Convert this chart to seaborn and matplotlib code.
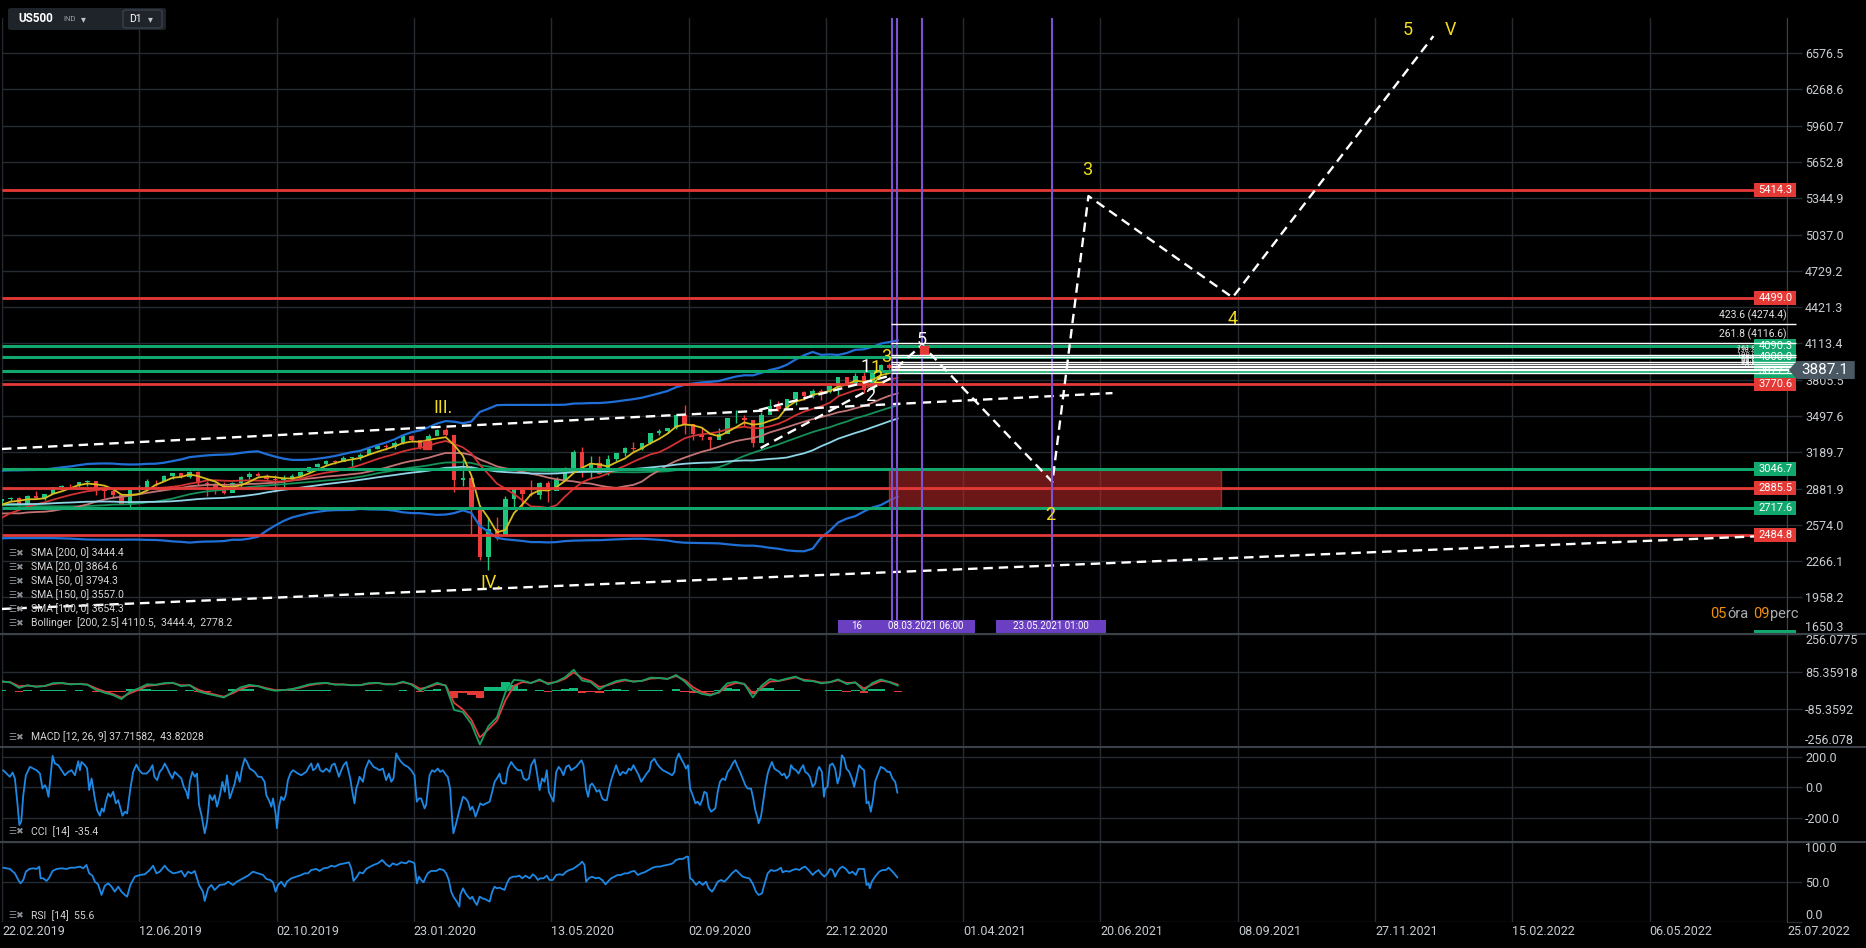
import numpy as np
import pandas as pd
import matplotlib
matplotlib.use("Agg")
import matplotlib.pyplot as plt
from matplotlib.patches import Rectangle, Polygon, FancyBboxPatch
from matplotlib.lines import Line2D
import seaborn as sns

sns.set_style("dark")
plt.rcParams["font.family"] = ["Roboto", "DejaVu Sans"]

BG = "#000000"
GRID = "#262b32"
SPINE = "#3b4149"
TXT = "#c9cdd2"
YEL = "#f2dc1c"
RED = "#e53935"
GRN = "#10a86c"
PURPLE = "#7b52d1"

# ---------------- data (weekly US500) ----------------
hist_close = [2712, 2721, 2735, 2779, 2780, 2755, 2718, 2760, 2801, 2802,
              2819, 2840, 2833, 2850, 2874, 2902, 2872, 2905, 2930, 2914,
              2886, 2767, 2768, 2659, 2723, 2781, 2736, 2633, 2760, 2633,
              2600, 2417, 2486, 2532, 2596, 2671, 2665, 2707, 2708, 2776]

close = [2793, 2804, 2743, 2822, 2800, 2834, 2893, 2907, 2905, 2940,
         2946, 2881, 2860, 2826, 2752, 2873, 2887, 2950, 2942, 2990,
         3014, 2977, 3026, 2932, 2919, 2889, 2847, 2926, 2979, 3007,
         2992, 2962, 2952, 2970, 2986, 3023, 3067, 3093, 3120, 3110,
         3141, 3146, 3169, 3221, 3240, 3235, 3265, 3330, 3295, 3226,
         3328, 3380, 3338, 2954, 2972, 2711, 2305, 2541, 2489, 2790,
         2875, 2837, 2831, 2930, 2864, 2955, 3044, 3194, 3041, 3098,
         3009, 3130, 3185, 3225, 3216, 3271, 3351, 3373, 3397, 3508,
         3427, 3341, 3319, 3298, 3348, 3477, 3484, 3465, 3270, 3509,
         3585, 3558, 3638, 3699, 3663, 3709, 3703, 3756, 3825, 3768,
         3841, 3714, 3887, 3934, 3907, 3887]

high = [2794, 2813, 2812, 2831, 2860, 2836, 2894, 2910, 2917, 2940,
        2954, 2937, 2892, 2876, 2830, 2885, 2910, 2964, 2955, 2996,
        3014, 3018, 3028, 3029, 2945, 2931, 2939, 2940, 2985, 3021,
        3022, 3002, 2993, 2993, 3008, 3027, 3067, 3097, 3121, 3127,
        3154, 3146, 3183, 3226, 3248, 3259, 3282, 3330, 3337, 3285,
        3347, 3385, 3393, 3337, 3136, 3000, 2711, 2637, 2641, 2818,
        2880, 2870, 2954, 2934, 2945, 2981, 3068, 3211, 3233, 3155,
        3154, 3165, 3186, 3238, 3280, 3272, 3352, 3387, 3399, 3509,
        3588, 3425, 3402, 3329, 3398, 3482, 3550, 3502, 3466, 3529,
        3645, 3628, 3644, 3699, 3712, 3726, 3723, 3760, 3826, 3823,
        3859, 3870, 3887, 3937, 3950, 3910]

low = [2757, 2775, 2722, 2743, 2800, 2785, 2849, 2876, 2894, 2897,
       2900, 2825, 2801, 2805, 2750, 2729, 2855, 2878, 2905, 2943,
       2966, 2975, 2970, 2914, 2822, 2840, 2834, 2856, 2891, 2964,
       2985, 2946, 2856, 2892, 2953, 2984, 3025, 3066, 3081, 3091,
       3112, 3070, 3123, 3183, 3216, 3213, 3214, 3264, 3281, 3214,
       3235, 3334, 3328, 2855, 2902, 2478, 2280, 2191, 2447, 2500,
       2727, 2728, 2816, 2797, 2766, 2873, 2969, 3038, 2984, 2965,
       3004, 3001, 3115, 3154, 3201, 3209, 3260, 3339, 3354, 3387,
       3349, 3293, 3292, 3209, 3323, 3354, 3441, 3415, 3234, 3280,
       3511, 3543, 3558, 3594, 3633, 3647, 3636, 3691, 3663, 3764,
       3766, 3694, 3725, 3874, 3885, 3860]

cci_points = [
    (0.7, 113), (2.7, 91), (4.6, 70), (6.2, 98), (7.5, 59), (8.9, -93), (10.1, -246), (11.2, -224), (12.4, -50), (13.9, 80),
    (16.3, 135), (18.2, 124), (20.1, 113), (22.1, 91), (23.6, -7), (25.0, 15), (26.0, -7), (27.1, -61), (28.3, 70), (29.5, 207),
    (30.8, 157), (32.8, 146), (34.7, 113), (36.6, 80), (38.6, 102), (40.5, 113), (42.5, 80), (44.4, 172), (45.4, 113), (46.3, 167),
    (48.3, 146), (49.6, 124), (50.8, -17), (52.2, 59), (54.1, -72), (55.4, -148), (57.0, -185), (58.2, -137), (59.3, -159), (60.5, -93),
    (61.9, -39), (63.2, -61), (64.8, -28), (66.3, -104), (67.7, -83), (69.0, -137), (70.2, -185), (71.6, -159), (72.9, -170), (74.8, -7),
    (76.4, 102), (78.3, 150), (79.9, 113), (81.8, 91), (84.2, 91), (86.1, 113), (87.7, 146), (88.8, 70), (90.4, 48), (91.9, 102),
    (93.5, 124), (94.8, 157), (96.4, 124), (97.7, 91), (99.3, 59), (100.6, 102), (102.6, 80), (104.5, 59), (105.9, 4), (107.4, -28),
    (108.4, -72), (109.4, 37), (110.9, 102), (112.3, 70), (113.6, 91), (114.8, -115), (116.2, -180), (118.1, -300), (119.5, -224), (121.0, -50),
    (122.6, -83), (123.9, -50), (125.3, -126), (126.8, -61), (128.4, 37), (129.8, -28), (131.1, 80), (132.7, -72), (134.0, -28), (135.6, 26),
    (136.9, 102), (138.5, 37), (139.8, 124), (141.4, 189), (142.7, 167), (144.3, 124), (145.9, 113), (147.2, 102), (149.2, 70), (151.1, 70),
    (153.0, 37), (154.0, -50), (155.9, -93), (156.9, -126), (157.9, -72), (159.4, -170), (160.2, -267), (161.4, -126), (162.7, -61), (164.1, -83),
    (165.3, -50), (166.6, 48), (168.0, 91), (169.5, 113), (171.1, 102), (172.4, 91), (174.4, 80), (175.7, 91), (177.3, 102), (178.8, 135),
    (180.2, 157), (181.2, 113), (182.7, 124), (184.1, 157), (185.4, 113), (187.0, 102), (188.9, 124), (190.9, 102), (192.2, 146), (193.8, 157),
    (195.1, 113), (196.3, 70), (197.7, 113), (199.0, 146), (200.6, 167), (201.5, 124), (202.9, 59), (204.1, -28), (205.4, -104), (206.4, -7),
    (207.4, 26), (208.3, 70), (210.3, 37), (211.8, 124), (213.8, 178), (215.1, 157), (216.5, 135), (218.4, 124), (220.0, 113), (221.9, 124),
    (223.8, 48), (225.4, 91), (226.8, 37), (228.1, 59), (229.7, 222), (231.2, 189), (232.6, 167), (234.5, 146), (236.5, 135), (238.4, 113),
    (240.3, 80), (241.7, -93), (242.9, -72), (244.2, -72), (246.2, -137), (247.1, -115), (249.1, 80), (250.6, 113), (252.0, 102), (253.9, 124),
    (255.3, 102), (256.8, 113), (258.8, 80), (259.7, 70), (261.1, -7), (262.3, -213), (263.0, -300), (264.6, -235), (266.5, -148),
    (268.6, -61), (270.1, -72), (271.5, -93), (272.8, -148), (274.0, -126), (274.8, -148), (275.9, -191), (277.3, -148), (278.6, -104), (280.2, -115),
    (282.1, -104), (284.1, -93), (285.6, -28), (287.0, 37), (288.3, 59), (289.9, 91), (290.9, 37), (291.8, 26), (293.4, 26), (294.8, 124),
    (296.7, 167), (298.6, 135), (300.6, 113), (302.5, 113), (303.9, 59), (305.4, 48), (307.0, 59), (308.3, 146), (310.3, 185), (311.6, 102),
    (313.2, -17), (314.7, 59), (316.1, 37), (317.4, 113), (318.6, -28), (320.0, -61), (321.3, -93), (322.9, 102), (324.4, 135), (325.8, 113),
    (327.1, 80), (328.7, 135), (330.3, 146), (331.6, 113), (333.0, 124), (334.5, 135), (336.1, 157), (337.6, 178), (338.8, 146), (340.3, -7),
    (341.5, -61), (342.7, 15), (343.8, 26), (345.2, 4), (346.5, -28), (348.1, -17), (349.7, -72), (351.0, -83), (352.4, -83), (353.9, 4),
    (355.5, 70), (356.2, 91), (357.8, 146), (358.8, 113), (360.1, 80), (361.7, 102), (363.6, 91), (365.2, 124), (366.5, 113), (367.9, 146),
    (369.4, 113), (371.0, 80), (372.4, 37), (373.7, 59), (375.6, 91), (377.2, 113), (378.2, 167), (380.1, 189), (381.5, 157), (383.0, 135),
    (385.0, 113), (386.9, 102), (388.8, 91), (390.4, 80), (391.8, 102), (392.7, 178), (394.3, 222), (395.6, 189), (397.2, 157), (398.5, 124),
    (399.7, 146), (400.9, -7), (402.4, -50), (404.0, -104), (405.3, -93), (406.7, -115), (407.9, -83), (409.2, -28), (410.6, -39), (411.7, -126),
    (413.1, -159), (414.4, -148), (415.6, -137), (417.0, -28), (418.3, 37), (419.9, 59), (421.4, 48), (422.8, 102), (424.3, 124), (425.7, 157),
    (427.1, 178), (428.6, 135), (430.0, 102), (431.5, 59), (433.1, 15), (434.4, -7), (436.4, -7), (437.7, -72), (438.9, -148), (440.3, -202),
    (440.8, -235), (442.2, -191), (443.5, -93), (444.7, 4), (446.1, 91), (447.4, 135), (448.6, 167), (450.0, 124), (451.3, 113), (452.9, 102),
    (454.4, 80), (455.8, 91), (457.1, 59), (458.7, 80), (459.7, 146), (461.0, 124), (462.6, 113), (464.1, 91), (465.5, 124), (466.8, 146),
    (468.0, 102), (469.4, 91), (470.7, 70), (472.3, 4), (473.8, 26), (475.2, 113), (476.1, 135), (477.7, 102), (478.9, -61), (479.6, -7),
    (481.0, 4), (482.3, 146), (483.9, 157), (485.4, 124), (486.8, 26), (488.2, 80), (489.3, 211), (490.7, 189), (492.0, 124), (493.6, 102),
    (495.2, 59), (496.5, 4), (497.9, 70), (499.4, 146), (501.0, 124), (502.3, 113), (503.7, -104), (504.9, -93), (506.2, -159), (507.6, -72),
    (508.7, 37), (510.1, 80), (512.0, 135), (514.0, 124), (515.9, 102), (517.3, 102), (518.8, 59), (520.4, 37), (521.7, -35.4)]

rsi_points = [
    (0.7, 67.9), (4.6, 66.3), (7.5, 60.8), (9.5, 52.5), (10.8, 48.3), (12.4, 52.5), (13.9, 62.9), (15.9, 66.3), (18.2, 67.1), (20.1, 66.3),
    (21.7, 69.2), (22.5, 54.6), (24.0, 54.6), (26.0, 51.3), (27.5, 55.4), (29.5, 63.8), (31.8, 66.3), (34.7, 67.1), (37.6, 66.3), (39.9, 67.9),
    (42.5, 67.9), (45.4, 69.2), (47.3, 67.1), (49.2, 71.3), (50.8, 60.8), (52.7, 57.9), (54.1, 50.4), (56.0, 47.1), (58.0, 33.8), (59.9, 45.4),
    (61.9, 48.3), (63.8, 44.2), (65.7, 37.9), (67.7, 44.2), (69.6, 37.9), (71.6, 33.8), (72.9, 31.7), (74.8, 46.3), (77.4, 56.7), (80.3, 58.8),
    (83.2, 59.6), (86.1, 65.0), (88.0, 70.4), (90.0, 60.8), (91.9, 62.9), (94.8, 70.4), (96.8, 65.0), (99.7, 60.8), (102.6, 62.1), (104.5, 63.8),
    (106.5, 56.7), (108.4, 62.9), (110.4, 60.8), (112.3, 63.8), (114.8, 46.3), (117.1, 37.9), (118.1, 26.3), (120.1, 42.1), (122.0, 46.3), (123.9, 40.0),
    (126.8, 46.3), (129.8, 47.1), (131.7, 50.4), (134.6, 46.3), (136.9, 50.4), (140.4, 54.6), (143.3, 57.9), (146.2, 62.9), (149.2, 60.8), (152.1, 58.8),
    (154.0, 53.8), (156.3, 52.5), (157.9, 49.6), (159.4, 37.9), (160.8, 46.3), (162.7, 50.4), (164.7, 44.2), (166.0, 50.4), (168.6, 54.6), (171.5, 56.7),
    (174.4, 58.8), (176.3, 60.8), (178.3, 60.8), (180.2, 65.0), (183.1, 66.3), (185.0, 63.8), (187.4, 67.1), (189.9, 67.9), (191.8, 70.4), (193.8, 69.2),
    (196.7, 72.1), (199.6, 73.3), (202.1, 74.6), (203.5, 67.1), (204.8, 51.3), (206.8, 56.7), (208.3, 62.1), (210.3, 60.8), (212.2, 66.3), (214.5, 69.2),
    (216.5, 71.3), (219.0, 73.3), (221.5, 77.5), (223.8, 72.1), (225.8, 69.2), (227.7, 73.3), (230.0, 71.3), (232.6, 74.6), (235.5, 73.3), (237.0, 76.3),
    (239.4, 74.6), (240.3, 73.3), (241.7, 48.3), (242.9, 56.7), (244.2, 52.5), (245.6, 49.6), (246.7, 55.4), (248.1, 60.8), (250.0, 63.8), (253.0, 63.8),
    (254.9, 66.3), (257.2, 65.0), (258.8, 60.8), (260.3, 52.5), (261.7, 37.9), (263.0, 31.7), (265.0, 25.4), (266.5, 19.2),
    (267.0, 33.8), (268.6, 42.1), (270.1, 35.8), (271.5, 31.7), (272.8, 28.8), (274.0, 31.7), (275.4, 25.4), (276.7, 21.3), (278.3, 31.7), (279.8, 29.6),
    (281.2, 28.8), (282.5, 27.5), (284.1, 25.4), (285.6, 37.9), (287.0, 44.2), (288.3, 42.1), (289.9, 42.9), (291.5, 41.3), (292.8, 40.0), (294.2, 48.3),
    (295.7, 54.6), (297.7, 56.7), (299.6, 56.7), (301.5, 57.9), (303.1, 54.6), (305.0, 57.9), (307.4, 54.6), (309.3, 59.6), (310.9, 56.7), (312.2, 52.5),
    (313.6, 54.6), (315.5, 54.6), (317.4, 57.9), (319.0, 52.5), (320.9, 52.5), (322.9, 58.8), (324.8, 59.6), (326.8, 58.8), (328.7, 62.9), (330.6, 65.0),
    (332.6, 66.3), (334.5, 69.2), (336.5, 72.1), (338.0, 75.4), (339.4, 71.3), (340.3, 50.4), (341.9, 54.6), (343.8, 56.7), (345.8, 54.6), (347.7, 55.4),
    (349.7, 52.5), (351.6, 47.1), (353.0, 50.4), (354.9, 54.6), (356.8, 56.7), (358.8, 58.8), (360.7, 58.8), (362.7, 60.8), (364.6, 60.8), (366.5, 62.9),
    (368.5, 63.8), (370.4, 58.8), (372.4, 60.8), (374.3, 62.1), (376.8, 65.0), (379.1, 67.9), (381.5, 69.2), (383.4, 69.2), (385.3, 70.4), (387.3, 71.3),
    (389.2, 72.1), (390.8, 73.3), (392.7, 77.5), (394.7, 78.8), (396.6, 78.8), (398.9, 81.7), (399.7, 81.7), (400.9, 54.6), (402.4, 52.5), (404.4, 46.3),
    (406.3, 50.4), (408.2, 46.3), (410.2, 50.4), (411.7, 42.1), (413.7, 37.9), (415.0, 42.1), (417.0, 50.4), (418.9, 52.5), (420.9, 50.4), (422.8, 54.6),
    (425.3, 60.8), (427.6, 65.0), (429.6, 60.8), (431.5, 56.7), (433.5, 55.4), (435.4, 54.6), (437.3, 48.3), (439.3, 37.9), (440.8, 33.8), (442.8, 35.8),
    (444.1, 46.3), (446.1, 60.8), (448.0, 65.0), (450.0, 63.8), (451.9, 65.0), (453.8, 67.9), (454.8, 62.1), (456.7, 63.8), (458.7, 62.9), (460.6, 65.0),
    (462.6, 66.3), (464.5, 65.0), (466.4, 67.9), (468.0, 69.2), (469.9, 65.0), (472.3, 58.8), (473.8, 62.1), (475.8, 65.0), (477.1, 60.8), (479.1, 56.7),
    (481.0, 60.8), (482.3, 66.3), (483.9, 65.0), (485.4, 56.7), (486.8, 62.9), (488.2, 67.1), (489.7, 69.2), (491.7, 66.3), (493.6, 60.8), (495.5, 62.9),
    (497.5, 58.8), (499.0, 66.3), (500.4, 66.3), (502.3, 66.3), (503.7, 46.3), (504.9, 48.3), (505.6, 42.1), (506.8, 50.4), (508.7, 56.7), (511.1, 62.9),
    (513.0, 65.0), (515.0, 65.0), (516.5, 67.9), (517.9, 65.0), (519.8, 60.8), (521.7, 55.6)]

# horizontal levels
red_levels = [5414.3, 4499.0, 3770.6, 2885.5, 2484.8]
green_levels = [4090.3, 4000.0, 3877.2, 3046.7, 2717.6]
fib_pct = [423.6, 261.8, 161.8, 138.2, 100.0, 78.6, 61.8, 50.0, 38.2, 23.6, 0.0]
fib_price = [4274.4, 4116.6, 4019.1, 3996.1, 3958.8, 3938.0, 3921.6, 3910.1, 3898.6, 3884.3, 3861.3]
last_price = 3887.1

# projected wave path (bar index, price)
wave_x = [521, 536, 612, 633, 717, 834]
wave_y = [3905, 4100, 2938, 5363, 4503, 6720]

# dashed trend lines: start / end
trend_x0 = [0, 0, 441, 442]
trend_y0 = [3218, 1861, 3548, 3226]
trend_x1 = [647, 1021, 519, 519]
trend_y1 = [3692, 2476, 3845, 3828]

vline_x = [518.5, 521.5, 536, 612]
zone_x = [517, 710]
zone_y = [2717.6, 3046.7]

wave_labels = ["III.", "IV.", "1", "2", "5", "1", "2", "3", "2", "3", "4", "5", "V"]
wave_lx = [257, 285, 503, 506, 536, 509, 510, 515, 611, 632, 717, 819, 844]
wave_ly = [3566, 2081, 3913, 3667, 4142, 3905, 3820, 3998, 2657, 5584, 4320, 6772, 6772]
wave_lc = [YEL, YEL, "white", "white", "white", YEL, YEL, YEL, YEL, YEL, YEL, YEL, YEL]

price_ticks = [1650.3, 1958.2, 2266.1, 2574.0, 2881.9, 3189.7, 3497.6, 3805.5, 4113.4,
               4421.3, 4729.2, 5037.0, 5344.9, 5652.8, 5960.7, 6268.6, 6576.5]
x_labels = ["22.02.2019", "12.06.2019", "02.10.2019", "23.01.2020", "13.05.2020", "02.09.2020",
            "22.12.2020", "01.04.2021", "20.06.2021", "08.09.2021", "27.11.2021", "15.02.2022",
            "06.05.2022", "25.07.2022"]
legend_lines = ["SMA [200, 0] 3444.4", "SMA [20, 0] 3864.6", "SMA [50, 0] 3794.3",
                "SMA [150, 0] 3557.0", "SMA [100, 0] 3654.3",
                "Bollinger  [200, 2.5] 4110.5,  3444.4,  2778.2"]

# ---------------- indicators ----------------
step = 522 / (len(close) - 1)
all_close = hist_close + close
df = pd.DataFrame({"x": (np.arange(len(all_close)) - len(hist_close)) * step,
                   "close": all_close})
for name, win in [("sma20", 4), ("sma50", 10), ("sma100", 20), ("sma150", 30), ("sma200", 40)]:
    df[name] = df["close"].rolling(win).mean()
sd = df["close"].rolling(40).std(ddof=0)
df["bb_up"] = df["sma200"] + 2.5 * sd
df["bb_lo"] = df["sma200"] - 2.5 * sd
fast = df["close"].ewm(span=12 / 5, adjust=False).mean()
slow = df["close"].ewm(span=26 / 5, adjust=False).mean()
df["macd"] = fast - slow
df["signal"] = df["macd"].ewm(span=9 / 5, adjust=False).mean()
df["hist"] = df["macd"] - df["signal"]
vis = df[df["x"] >= 0].reset_index(drop=True)

# ---------------- figure ----------------
W, H = 1866, 948
fig = plt.figure(figsize=(W / 100, H / 100), dpi=100, facecolor=BG)


def fx(px):
    return px / W


def fy(py):
    return 1 - py / H


L, R = 2, 1787
ax_p = fig.add_axes([fx(L), fy(634), (R - L) / W, (634 - 18) / H])
ax_m = fig.add_axes([fx(L), fy(747), (R - L) / W, 113 / H], sharex=ax_p)
ax_c = fig.add_axes([fx(L), fy(842), (R - L) / W, 95 / H], sharex=ax_p)
ax_r = fig.add_axes([fx(L), fy(922), (R - L) / W, 80 / H], sharex=ax_p)

for ax in [ax_p, ax_m, ax_c, ax_r]:
    ax.set_facecolor(BG)
    for s in ax.spines.values():
        s.set_visible(False)
    ax.spines["right"].set_visible(True)
    ax.spines["right"].set_color(SPINE)
    ax.yaxis.tick_right()
    ax.tick_params(axis="y", color=GRID, labelcolor=TXT, length=11, width=1, pad=2, labelsize=9)
    ax.tick_params(axis="x", length=0, labelbottom=False)
    ax.grid(True, color=GRID, lw=1)
    ax.set_axisbelow(True)

ax_p.set_xticks(np.arange(0, 1041, 80))
ax_p.set_xlim(0, 1040)

U = 80 / 137.4         # bar units per pixel
P = 307.9 / 36.3       # price units per pixel
ax_p.set_ylim(6576.5 - 581 * P, 6576.5 + 35 * P)

# ---- price panel ----
opens = [hist_close[-1]] + close[:-1]
xs = vis["x"].values
up = np.array(close) >= np.array(opens)
ccol = np.where(up, "#1fc77e", "#ef3b3b")
ax_p.vlines(xs, low, high, colors=ccol, lw=1, zorder=2)
ax_p.bar(xs, np.array(close) - np.array(opens), bottom=opens, width=2.6, color=ccol,
         edgecolor="none", linewidth=0, zorder=2)

sma_style = [("sma150", "#168f58"), ("sma100", "#c27474"), ("sma50", "#d23232"),
             ("sma200", "#8fd6e8"), ("sma20", "#d8bd1c"), ("bb_up", "#1f6fd6"), ("bb_lo", "#1f6fd6")]
for col, c in sma_style:
    sns.lineplot(data=vis.dropna(subset=[col]), x="x", y=col, ax=ax_p, color=c,
                 lw=1.6 if col.startswith("bb") else 1.3, estimator=None, zorder=2.5)

ax_p.add_patch(Rectangle((zone_x[0], zone_y[0]), zone_x[1] - zone_x[0], zone_y[1] - zone_y[0],
                         fc="#b52828", alpha=0.6, ec="#d04040", lw=1, zorder=2.8))
ax_p.hlines(red_levels, 0, 1021, colors=RED, lw=2, zorder=3)
ax_p.hlines(green_levels, 0, 1021, colors=GRN, lw=2.2, zorder=3)

box_w, box_h = 42 * U, 14 * P
for v, c in [(v, RED) for v in red_levels] + [(v, GRN) for v in green_levels]:
    ax_p.add_patch(Rectangle((1021, v - box_h / 2), box_w, box_h, fc=c, ec="none", zorder=6, clip_on=False))
    ax_p.text(1021 + box_w / 2, v, f"{v:.1f}", color="white", fontsize=8, ha="center", va="center",
              zorder=7, clip_on=False)
ax_p.add_patch(Rectangle((1021, 1648.5), box_w, 3.5 * P, fc=GRN, ec="none", zorder=6, clip_on=False))

for i, (pct, v) in enumerate(zip(fib_pct, fib_price)):
    ax_p.hlines(v, 518, 1021 + box_w, colors="white", lw=1.0, zorder=7.5, clip_on=False)
    ax_p.text(1039.5, v + 3 * P, f"{pct:.1f} ({v:.1f})", color="#e4e4e4",
              fontsize=7.5 if i < 2 else 5.5, ha="right", va="bottom", zorder=5)

for x0, y0, x1, y1 in zip(trend_x0, trend_y0, trend_x1, trend_y1):
    ax_p.plot([x0, x1], [y0, y1], color="white", lw=1.7, ls=(0, (4, 2.5)), zorder=4)
ax_p.plot(wave_x, wave_y, color="white", lw=1.7, ls=(0, (4, 2.5)), zorder=4)

for xv in vline_x:
    ax_p.axvline(xv, color=PURPLE, lw=1.5, zorder=4.5)

ax_p.scatter([247.4, 537], [3252, 4057], marker="s", s=28, color="#e53935", zorder=4.6)

for t, x, y, c in zip(wave_labels, wave_lx, wave_ly, wave_lc):
    ax_p.text(x, y, t, color=c, fontsize=13, ha="center", va="center", zorder=8)

# date markers on the price panel bottom
y_b = 1648.5 + 1 * P
for x0, x1, t in [(487, 509.4, "16"), (509.4, 567, "08.03.2021 06:00"), (579, 643, "23.05.2021 01:00")]:
    ax_p.add_patch(Rectangle((x0, y_b), x1 - x0, 13 * P, fc="#6a3fc2", ec="none", zorder=8))
    ax_p.text((x0 + x1) / 2, y_b + 6.5 * P, t, color="white", fontsize=7, ha="center", va="center", zorder=9)

# current price tag
tag = Polygon([[(1790 - 2) * U, last_price], [(1798 - 2) * U, last_price + 9 * P],
               [(1856 - 2) * U, last_price + 9 * P], [(1856 - 2) * U, last_price - 9 * P],
               [(1798 - 2) * U, last_price - 9 * P]], closed=True, fc="#4a5863", ec="none",
              zorder=9, clip_on=False)
ax_p.add_patch(tag)
ax_p.text((1826 - 2) * U, last_price, f"{last_price:.1f}", color="white", fontsize=11,
          ha="center", va="center", zorder=10, clip_on=False)

ax_p.set_yticks(price_ticks, labels=[f"{v:.1f}" for v in price_ticks])
ax_p.get_yticklabels()[0].set_va("bottom")

# ---- MACD ----
mlim = 256.0775
ax_m.set_ylim(-mlim, mlim)
hc = np.where(vis["hist"] >= 0, "#12b878", "#e53935")
ax_m.bar(vis["x"], vis["hist"], width=step, color=hc, edgecolor="none", linewidth=0, zorder=2)
sns.lineplot(data=vis, x="x", y="signal", ax=ax_m, color="#e23b3b", lw=1.3, estimator=None, zorder=3)
sns.lineplot(data=vis, x="x", y="macd", ax=ax_m, color="#17a062", lw=1.3, estimator=None, zorder=3)
ax_m.set_yticks([-mlim, -85.35918, 85.35918, mlim],
                labels=["-256.078", "-85.3592", "85.35918", "256.0775"])
ax_m.get_yticklabels()[0].set_va("bottom")
ax_m.get_yticklabels()[-1].set_va("top")

# ---- CCI ----
cci = pd.DataFrame(cci_points, columns=["x", "v"])
sns.lineplot(data=cci, x="x", y="v", ax=ax_c, color="#1e88e5", lw=1.3, estimator=None)
ax_c.set_ylim(-357, 265)
ax_c.set_yticks([-200, 0, 200], labels=["-200.0", "0.0", "200.0"])

# ---- RSI ----
rsi = pd.DataFrame(rsi_points, columns=["x", "v"])
sns.lineplot(data=rsi, x="x", y="v", ax=ax_r, color="#1e88e5", lw=1.3, estimator=None)
ax_r.set_ylim(0, 100)
ax_r.set_yticks([0, 50, 100], labels=["0.0", "50.0", "100.0"])
ax_r.get_yticklabels()[0].set_va("bottom")
ax_r.get_yticklabels()[-1].set_va("top")

for ax in [ax_p, ax_m, ax_c, ax_r]:
    ax.set_xlabel("")
    ax.set_ylabel("")
ax_r.tick_params(axis="x", labelbottom=True, labelcolor=TXT, labelsize=9, pad=2)
ax_r.set_xticks(np.arange(0, 1041, 80), labels=x_labels)
for lab in ax_r.get_xticklabels():
    lab.set_ha("left")

# ---- separators and overlay texts ----
for py in [634, 747, 842]:
    fig.add_artist(Line2D([0, 1], [fy(py), fy(py)], color=SPINE, lw=1.5))

for i, t in enumerate(legend_lines):
    yy = 553 + 14 * i
    fig.text(fx(8), fy(yy), "☰✖", color="#8b9097", fontsize=6.5, va="center")
    fig.text(fx(31), fy(yy), t, color="#d6d6d6", fontsize=7.5, va="center")
for yy, t in [(737, "MACD [12, 26, 9] 37.71582,  43.82028"), (832, "CCI  [14]  -35.4"), (916, "RSI  [14]  55.6")]:
    fig.text(fx(8), fy(yy), "☰✖", color="#8b9097", fontsize=6.5, va="center")
    fig.text(fx(31), fy(yy), t, color="#d6d6d6", fontsize=7.5, va="center")

fig.add_artist(FancyBboxPatch((fx(8), fy(30)), fx(158), 22 / H, boxstyle="round,pad=0,rounding_size=0.002",
                              fc="#1f242b", ec="none"))
fig.add_artist(FancyBboxPatch((fx(123), fy(28)), fx(39), 18 / H, boxstyle="round,pad=0,rounding_size=0.002",
                              fc="#1f242b", ec="#3a4048", lw=1))
fig.text(fx(18), fy(19), "US500", color="white", fontsize=8.5, fontweight="bold", va="center")
fig.text(fx(63), fy(19), "IND", color="#9aa0a6", fontsize=5.5, va="center")
fig.text(fx(81), fy(19), "▾", color="#c0c4c8", fontsize=7, va="center", family="DejaVu Sans")
fig.text(fx(129), fy(19), "D1", color="white", fontsize=7.5, va="center")
fig.text(fx(148), fy(19), "▾", color="#c0c4c8", fontsize=7, va="center", family="DejaVu Sans")

for xx, t, c in [(1710, "05", "#f0900e"), (1727, "óra", "#a9adb2"), (1753, "09", "#f0900e"), (1770, "perc", "#a9adb2")]:
    fig.text(fx(xx), fy(614), t, color=c, fontsize=10.5, va="center")

fig.savefig("out.png", dpi=100, facecolor=BG)
